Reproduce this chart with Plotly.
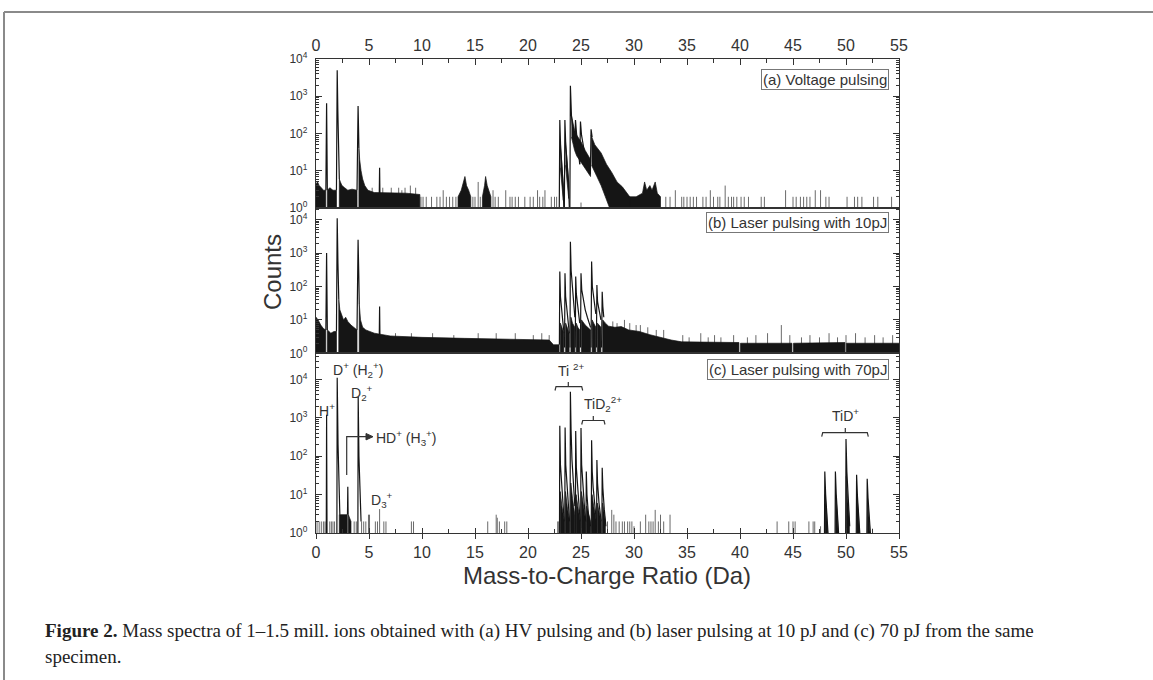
import plotly.graph_objects as go
from plotly.subplots import make_subplots

# ---------------- axis text ----------------
X_TICKS = [0, 5, 10, 15, 20, 25, 30, 35, 40, 45, 50, 55]
Y_TICK_VALS = [1, 10, 100, 1000, 10000]
Y_TICK_TEXT = ["10<sup>0</sup>", "10<sup>1</sup>", "10<sup>2</sup>", "10<sup>3</sup>", "10<sup>4</sup>"]
Y_LOG_TOP = [4.0, 4.35, 4.68]
PANEL_LABELS = ["(a) Voltage pulsing", "(b) Laser pulsing with 10pJ", "(c) Laser pulsing with 70pJ"]

# ---------------- (a) voltage pulsing ----------------
# sharp peaks: polylines (m/z, counts)
a_peaks = [
    [(0.93, 3), (1.0, 650), (1.07, 3)],
    [(1.93, 3), (2.0, 5000), (2.06, 400), (2.13, 40), (2.2, 6)],
    [(3.87, 3), (3.97, 550), (4.05, 40)],
    [(5.97, 2.5), (6.0, 12), (6.03, 2.5)],
    [(22.95, 1), (23.0, 230), (23.08, 40), (23.2, 12), (23.32, 4), (23.38, 1)],
    [(23.43, 1), (23.48, 230), (23.56, 50), (23.7, 15), (23.82, 5), (23.9, 1)],
    [(23.95, 1), (24.0, 1900), (24.1, 300), (24.25, 120), (24.42, 45)],
    [(24.42, 45), (24.48, 230), (24.58, 100), (24.75, 40), (24.88, 15)],
    [(24.88, 15), (24.95, 210), (25.05, 90), (25.3, 35), (25.6, 15), (25.88, 8)],
    [(25.88, 8), (25.95, 130), (26.05, 80)],
]
# dense noise regions: upper outline (baseline below)
a_bands = [
    [(0, 4.5), (0.15, 5), (0.3, 4), (0.5, 3.5), (0.7, 3), (0.92, 3)],
    [(1.08, 3), (1.3, 3.5), (1.6, 3), (1.93, 3)],
    [(2.2, 6), (2.3, 5), (2.45, 4), (2.7, 3.5), (3.0, 3), (3.4, 3.2), (3.87, 3)],
    [(4.05, 40), (4.12, 20), (4.25, 10), (4.4, 6), (4.6, 4), (4.9, 3), (5.5, 2.6), (7, 2.5), (8.5, 2.5), (9.8, 2.3)],
    [(13.4, 2), (13.7, 3), (13.9, 5), (14.05, 7), (14.2, 4), (14.4, 3), (14.6, 2)],
    [(15.7, 2), (15.9, 4), (16.0, 7), (16.15, 4), (16.3, 3), (16.5, 2)],
    [(29.5, 2), (30.2, 2), (30.8, 2.5), (31.0, 5), (31.2, 3), (31.5, 4), (31.7, 3), (32.0, 5), (32.2, 2.5), (32.5, 2)],
]
# noise bands floating above the baseline: (upper outline, lower outline)
a_floating = [
    ([(23.05, 60), (23.2, 15), (23.33, 4)], [(23.33, 1.6), (23.2, 4), (23.05, 12)]),
    ([(23.54, 60), (23.7, 16), (23.84, 5)], [(23.84, 1.8), (23.7, 5), (23.54, 14)]),
    ([(24.1, 300), (24.4, 120), (24.6, 90), (25.0, 60), (25.4, 35), (25.9, 20)],
     [(25.9, 7), (25.4, 11), (25.0, 17), (24.6, 25), (24.4, 35), (24.1, 80)]),
    ([(25.95, 90), (26.3, 50), (26.9, 30), (27.4, 15), (27.9, 9), (28.4, 5), (28.9, 3.7), (29.3, 2.5), (29.6, 2)],
     [(29.6, 1), (27.7, 1), (27.3, 2), (26.9, 4), (26.5, 7), (26.0, 14)]),
]
a_stick_x = [5.3, 6.3, 7.1, 7.8, 8.1, 8.4, 8.9, 9.4, 9.9, 10.1, 10.4, 10.9, 11.4, 11.7, 12.0, 12.3, 12.6,
             12.9, 13.2, 14.8, 15.0, 15.3, 15.5, 16.7, 16.9, 17.2, 17.9, 18.3, 18.5, 18.8, 19.1, 19.7, 20.2,
             20.5, 20.9, 21.1, 21.4, 21.6, 22.2, 22.5, 22.7, 25.0, 33.0, 33.4, 33.9, 34.5, 34.7, 35.0, 35.3,
             35.6, 35.9, 36.5, 36.8, 37.2, 37.5, 37.9, 38.1, 38.6, 38.9, 39.2, 39.4, 39.7, 40.1, 40.4, 40.8,
             42.0, 42.3, 44.3, 45.0, 45.3, 45.7, 46.0, 46.3, 46.6, 47.1, 47.6, 48.1, 48.4, 50.1, 50.8, 51.1,
             51.5, 52.6, 53.0, 54.3]
a_stick_y = [3.5, 3.5, 3.5, 3.5, 3, 3.5, 4, 3.5, 2, 2, 2, 2, 2, 2, 3, 2, 2,
             2, 2, 2, 2, 5, 2, 3, 2, 2, 3, 2, 2, 2, 2, 2, 2,
             2, 3, 2, 2, 3, 2, 2, 2, 1.4, 2, 2, 3, 2, 2, 2, 2,
             2, 2, 2, 2, 3, 2, 2, 2, 4, 2, 2, 2, 2, 2, 2, 2,
             2, 2, 3, 2, 2, 2, 2, 2, 2, 3, 3, 2, 2, 2, 2, 2,
             2, 2, 2, 2]

# ---------------- (b) laser pulsing 10 pJ ----------------
b_peaks = [
    [(0.93, 5), (1.0, 1000), (1.07, 5)],
    [(1.93, 4.5), (2.0, 11000), (2.07, 500), (2.15, 40)],
    [(3.87, 5), (3.97, 2500), (4.04, 200), (4.08, 30)],
    [(5.97, 3.5), (6.0, 25), (6.03, 3.5)],
    [(22.96, 1.8), (23.0, 280), (23.06, 50), (23.15, 20), (23.3, 8), (23.4, 4)],
    [(23.45, 1.5), (23.49, 250), (23.55, 50), (23.65, 20), (23.8, 8), (23.9, 4)],
    [(23.96, 1.5), (24.0, 2200), (24.07, 300), (24.15, 120), (24.3, 40), (24.42, 12)],
    [(24.46, 1.5), (24.5, 200), (24.56, 60), (24.7, 25), (24.88, 8)],
    [(24.95, 1.5), (25.0, 250), (25.07, 80), (25.2, 40), (25.4, 20), (25.6, 12), (25.9, 6)],
    [(25.95, 1.5), (26.0, 560), (26.07, 100), (26.2, 40), (26.4, 15)],
    [(26.45, 1.5), (26.5, 110), (26.56, 35), (26.7, 18), (26.88, 10)],
    [(26.94, 1.5), (27.0, 70), (27.06, 25), (27.15, 12)],
]
b_bands = [
    [(0, 12), (0.2, 10), (0.45, 7), (0.7, 5.5), (0.92, 5)],
    [(1.08, 5), (1.4, 4), (1.7, 4.5), (1.93, 4.5)],
    [(2.15, 40), (2.25, 20), (2.4, 14), (2.6, 10), (2.8, 12), (3.0, 9), (3.3, 7), (3.6, 6), (3.87, 5)],
    [(4.08, 30), (4.2, 10), (4.4, 6), (4.7, 5), (5.5, 4), (7, 3.3), (10, 3), (14, 2.8), (18, 2.7),
     (22, 2.5), (22.4, 1.8), (22.93, 1.8)],
    [(23.05, 8), (23.2, 6), (23.38, 4)],
    [(23.55, 8), (23.7, 6), (23.88, 4)],
    [(24.05, 12), (24.2, 8), (24.42, 6)],
    [(24.55, 8), (24.7, 6), (24.88, 5)],
    [(25.05, 10), (25.4, 7), (25.9, 5)],
    [(26.05, 10), (26.2, 8), (26.4, 6)],
    [(26.55, 8), (26.88, 6)],
    [(27.05, 10), (27.3, 8), (27.6, 6.5), (28.2, 6), (28.8, 6.3), (29.5, 5), (30.5, 4.5), (31.5, 3.6),
     (32.5, 3), (33.5, 2.5), (34.5, 2.2), (39.9, 2.1)],
    [(40.05, 2), (44.9, 2)],
    [(45.05, 2), (49.9, 2.1)],
    [(50.05, 2), (55, 2)],
]
b_stick_x = [7.5, 9.0, 11.0, 13.0, 15.3, 17.0, 18.8, 20.5, 21.3, 22.0, 28.0, 28.4, 29.1, 29.6, 30.2, 30.6,
             31.3, 32.1, 32.8, 34.6, 35.2, 36.3, 37.0, 37.6, 38.2, 39.4, 40.7, 41.5, 42.6, 43.9, 44.7, 45.8,
             46.6, 47.5, 48.4, 49.2, 50.0, 50.9, 51.8, 52.7, 53.5, 54.4]
b_stick_y = [4, 4, 4, 3.5, 4, 4, 4, 3.5, 4, 3.5, 9, 8, 10, 8, 7, 7,
             6, 5, 5, 3.5, 3, 4, 3, 3.5, 3, 3.5, 3, 3.5, 4, 7, 3.5, 3,
             3.5, 3, 4, 3, 3.5, 4, 3, 3.5, 3, 3.5]

# ---------------- (c) laser pulsing 70 pJ ----------------
c_peaks = [
    [(0.97, 1), (1.0, 1200), (1.04, 1)],
    [(1.97, 1), (2.0, 11000), (2.08, 200), (2.15, 20), (2.25, 3)],
    [(2.97, 3), (3.0, 16), (3.03, 3)],
    [(3.95, 1), (3.98, 3500), (4.05, 100), (4.15, 10), (4.25, 2)],
    [(22.97, 1), (23.0, 620), (23.06, 60), (23.15, 20), (23.3, 6), (23.42, 2)],
    [(23.47, 1), (23.5, 560), (23.56, 60), (23.65, 20), (23.8, 6), (23.92, 2)],
    [(23.97, 1), (24.0, 4800), (24.06, 500), (24.15, 80), (24.3, 20), (24.42, 5)],
    [(24.47, 1), (24.5, 450), (24.56, 50), (24.65, 18), (24.8, 6), (24.92, 2)],
    [(24.97, 1), (25.0, 540), (25.06, 60), (25.15, 20), (25.3, 6), (25.45, 2)],
    [(25.47, 1), (25.5, 40), (25.56, 10), (25.7, 3), (25.9, 1.5)],
    [(25.97, 1), (26.0, 260), (26.06, 40), (26.15, 15), (26.3, 5), (26.45, 2)],
    [(26.47, 1), (26.5, 80), (26.56, 20), (26.7, 6), (26.9, 2)],
    [(26.97, 1), (27.0, 50), (27.06, 15), (27.2, 4), (27.35, 1.5)],
    [(47.97, 1), (48.0, 40), (48.08, 10), (48.2, 3), (48.3, 1)],
    [(48.97, 1), (49.0, 40), (49.08, 10), (49.2, 3), (49.3, 1)],
    [(49.97, 1), (50.0, 280), (50.08, 40), (50.2, 8), (50.35, 1.5)],
    [(50.97, 1), (51.0, 33), (51.08, 9), (51.2, 3), (51.3, 1)],
    [(51.97, 1), (52.0, 26), (52.08, 8), (52.2, 2.5), (52.3, 1)],
]
c_bands = [
    [(2.2, 3), (2.95, 3)],
    [(3.05, 3), (3.3, 2)],
    [(23.04, 12), (23.2, 5), (23.42, 2)],
    [(23.54, 12), (23.7, 5), (23.92, 2)],
    [(24.04, 20), (24.2, 8), (24.42, 3)],
    [(24.54, 10), (24.7, 5), (24.92, 2)],
    [(25.04, 12), (25.2, 6), (25.45, 2)],
    [(25.54, 5), (25.9, 2)],
    [(26.04, 10), (26.2, 5), (26.45, 2)],
    [(26.54, 6), (26.9, 2)],
    [(27.04, 6), (27.3, 2)],
    [(48.03, 10), (48.15, 4), (48.27, 1.5)],
    [(49.03, 10), (49.15, 4), (49.27, 1.5)],
    [(50.03, 30), (50.15, 8), (50.32, 2)],
    [(51.03, 9), (51.15, 4), (51.27, 1.5)],
    [(52.03, 8), (52.15, 3), (52.27, 1.5)],
]
c_stick_x = [0.1, 0.3, 0.5, 0.7, 0.85, 1.3, 1.45, 1.6, 1.75, 3.6, 3.8, 4.3, 4.5, 4.7, 4.95, 5.05, 5.6, 5.8,
             6.0, 6.4, 6.6, 9.0, 9.2, 16.2, 17.0, 17.1, 17.3, 17.8, 18.0, 22.8, 22.9, 27.5, 27.9, 28.1, 28.3,
             28.6, 28.9, 29.1, 29.4, 29.6, 29.8, 30.0, 30.6, 31.1, 31.4, 31.6, 31.8, 32.0, 32.3, 32.5, 32.8,
             33.4, 43.5, 44.6, 45.0, 45.2, 46.5, 46.9, 47.05, 47.6, 52.5]
c_stick_y = [2, 2, 2, 2, 2, 2, 2, 2, 2, 2, 2, 2, 2, 2, 3, 3, 2, 2,
             4.2, 2, 2, 2, 2, 2, 3, 2.5, 2, 2, 2, 2, 2, 2, 4, 3, 2,
             2, 2, 2, 2, 2, 2, 1.5, 2, 3, 2, 2, 2, 4, 2, 3, 2,
             3, 2, 2, 2, 2, 2, 2, 2, 1.5, 1.3]

# ---------------- geometry (pixels of the 1153x680 page) ----------------
W, H = 1153, 680
L, R, T, B = 316, 899, 59, 533
PW, PH = R - L, B - T


def pxx(px):
    return (px - L) / PW


def pxy(py):
    return (B - py) / PH


def dx(px):  # pixel -> m/z on shared scale
    return (px - L) / PW * 55


def poly_lines(polys):
    xs, ys = [], []
    for p in polys:
        xs += [q[0] for q in p] + [None]
        ys += [q[1] for q in p] + [None]
    return xs, ys


def band_polys(bands, floating=()):
    xs, ys = [], []
    for top in bands:
        pts = [(top[0][0], 1)] + list(top) + [(top[-1][0], 1)]
        xs += [q[0] for q in pts] + [None]
        ys += [q[1] for q in pts] + [None]
    for top, lo in floating:
        pts = list(top) + list(lo)
        xs += [q[0] for q in pts] + [None]
        ys += [q[1] for q in pts] + [None]
    return xs, ys


def sticks(sx, sy):
    xs, ys = [], []
    for x, y in zip(sx, sy):
        xs += [x, x, None]
        ys += [1, y, None]
    return xs, ys


fig = make_subplots(rows=3, cols=1, vertical_spacing=0)

INK = "#151515"
panels = [
    (a_peaks, a_bands, a_floating, a_stick_x, a_stick_y),
    (b_peaks, b_bands, (), b_stick_x, b_stick_y),
    (c_peaks, c_bands, (), c_stick_x, c_stick_y),
]
for i, (pk, bd, fl, sx, sy) in enumerate(panels, start=1):
    stx, sty = sticks(sx, sy)
    fig.add_trace(go.Scatter(x=stx, y=sty, mode="lines", line=dict(color="#6a6a6a", width=1),
                             hoverinfo="skip", showlegend=False), row=i, col=1)
    bx, by = band_polys(bd, fl)
    fig.add_trace(go.Scatter(x=bx, y=by, mode="lines", fill="toself", fillcolor=INK,
                             line=dict(color=INK, width=0.7), hoverinfo="skip", showlegend=False),
                  row=i, col=1)
    px_, py_ = poly_lines(pk)
    fig.add_trace(go.Scatter(x=px_, y=py_, mode="lines", line=dict(color=INK, width=1.2),
                             hoverinfo="skip", showlegend=False), row=i, col=1)

# dummy trace for the overlaid bottom axis (inner half of crossing ticks)
fig.add_trace(go.Scatter(x=[None], y=[None], xaxis="x4", yaxis="y3", showlegend=False, hoverinfo="skip"))

AX = "#333333"
FONT = "Liberation Sans, Arial, sans-serif"
domains = [(pxy(208), 1.0), (pxy(353.3), pxy(208)), (0.0, pxy(353.3))]
for i in range(1, 4):
    top = Y_LOG_TOP[i - 1]
    minors = [m * 10 ** k for k in range(0, 5) for m in range(2, 10) if m * 10 ** k < 10 ** top]
    fig.update_layout(**{
        f"yaxis{i if i > 1 else ''}": dict(
            type="log", range=[0, top], domain=list(domains[i - 1]),
            tickmode="array", tickvals=Y_TICK_VALS, ticktext=Y_TICK_TEXT,
            ticks="inside", ticklen=6, tickwidth=1, tickcolor=AX,
            minor=dict(tickmode="array", tickvals=minors, ticks="inside", ticklen=3,
                       tickcolor=AX, showgrid=False),
            showline=True, linecolor=AX, linewidth=1.3, mirror="ticks",
            showgrid=False, zeroline=False,
            tickfont=dict(family=FONT, size=12, color=AX), ticklabelstandoff=5,
        )
    })

common_x = dict(range=[0, 55], showgrid=False, zeroline=False, showline=True, linecolor=AX,
                linewidth=1.3, mirror=True, tickmode="array", tickvals=X_TICKS,
                tickfont=dict(family=FONT, size=16, color=AX))
fig.update_layout(
    xaxis=dict(common_x, side="top", ticks="inside", ticklen=6, tickcolor=AX, ticklabelstandoff=0,
               minor=dict(dtick=2.5, tick0=0, ticks="inside", ticklen=4, tickcolor=AX)),
    xaxis2=dict(common_x, showticklabels=False, ticks=""),
    xaxis3=dict(common_x, ticks="outside", ticklen=5, tickcolor=AX, ticklabelstandoff=0),
    xaxis4=dict(range=[0, 55], overlaying="x3", anchor="y3", side="bottom", showticklabels=False,
                showgrid=False, zeroline=False, showline=False, tickmode="array", tickvals=X_TICKS,
                ticks="inside", ticklen=5, tickcolor=AX,
                minor=dict(dtick=2.5, tick0=0, ticks="inside", ticklen=4, tickcolor=AX)),
)

ann = []
# panel labels in boxes
for lab, ytop in zip(PANEL_LABELS, [68.5, 212, 358.5]):
    ann.append(dict(text=lab, xref="paper", yref="paper", x=pxx(888.5), y=pxy(ytop),
                    xanchor="right", yanchor="top", showarrow=False, bgcolor="white",
                    bordercolor="#777", borderwidth=1, borderpad=1,
                    font=dict(family=FONT, size=15, color=AX)))
# peak assignments in panel (c)
lab_font = dict(family=FONT, size=14, color=AX)
for txt, xc, yc, anc in [
    ("H<sup>+</sup>", 327, 410, "center"),
    ("D<sup>+</sup> (H<sub>2</sub><sup>+</sup>)", 358, 370, "center"),
    ("D<sub>2</sub><sup>+</sup>", 362, 393, "center"),
    ("HD<sup>+</sup> (H<sub>3</sub><sup>+</sup>)", 374, 437.5, "left"),
    ("D<sub>3</sub><sup>+</sup>", 382, 500, "center"),
    ("Ti <sup>2+</sup>", 571, 370, "center"),
    ("TiD<sub>2</sub><sup>2+</sup>", 603, 404, "center"),
    ("TiD<sup>+</sup>", 845.3, 415, "center"),
]:
    ann.append(dict(text=txt, xref="x3", yref="paper", x=dx(xc), y=pxy(yc), xanchor=anc,
                    yanchor="middle", showarrow=False, font=lab_font))
# axis titles
ann.append(dict(text="Counts", xref="paper", yref="paper", x=pxx(272), y=pxy(272), textangle=-90,
                showarrow=False, xanchor="center", yanchor="middle",
                font=dict(family=FONT, size=24, color=AX)))
ann.append(dict(text="Mass-to-Charge Ratio (Da)", xref="paper", yref="paper", x=pxx(607), y=pxy(575),
                showarrow=False, xanchor="center", yanchor="middle",
                font=dict(family=FONT, size=24, color=AX)))
# caption
cap_font = dict(family="Liberation Serif, Times New Roman, serif", size=19, color="#222")
ann.append(dict(text="<b>Figure 2.</b> Mass spectra of 1–1.5 mill. ions obtained with (a) HV pulsing and (b) "
                     "laser pulsing at 10 pJ and (c) 70 pJ from the same",
                xref="paper", yref="paper", x=pxx(43), y=pxy(631), xanchor="left", yanchor="middle",
                showarrow=False, font=cap_font))
ann.append(dict(text="specimen.", xref="paper", yref="paper", x=pxx(43), y=pxy(656), xanchor="left",
                yanchor="middle", showarrow=False, font=cap_font))

shapes = []
# page frame
shapes.append(dict(type="line", xref="paper", yref="paper", x0=pxx(4), x1=pxx(1153), y0=pxy(12), y1=pxy(12),
                   line=dict(color="#8a8a8a", width=2)))
shapes.append(dict(type="line", xref="paper", yref="paper", x0=pxx(4), x1=pxx(4), y0=pxy(12), y1=pxy(680),
                   line=dict(color="#8a8a8a", width=2)))
# brackets
br = dict(color=AX, width=1.2)
for (x0, x1, xm, yb, yend, ytick) in [(555, 582.7, 568.3, 386.7, 390.5, 382),
                                      (581.7, 605, 593.3, 420.5, 424.5, 416),
                                      (821.7, 868.3, 845.3, 432.7, 436.7, 428)]:
    path = (f"M {dx(x0)},{pxy(yend)} L {dx(x0 + 1)},{pxy(yb)} L {dx(x1 - 1)},{pxy(yb)} "
            f"L {dx(x1)},{pxy(yend)} M {dx(xm)},{pxy(yb)} L {dx(xm)},{pxy(ytick)}")
    shapes.append(dict(type="path", xref="x3", yref="paper", path=path, line=br))
# HD+ arrow
shapes.append(dict(type="path", xref="x3", yref="paper",
                   path=f"M {dx(346.7)},{pxy(475)} L {dx(346.7)},{pxy(436.7)} L {dx(368)},{pxy(436.7)}",
                   line=br))
shapes.append(dict(type="path", xref="x3", yref="paper",
                   path=f"M {dx(373)},{pxy(436.7)} L {dx(366)},{pxy(433.5)} L {dx(366)},{pxy(439.9)} Z",
                   fillcolor=AX, line=dict(color=AX, width=1)))

fig.update_layout(width=W, height=H, margin=dict(l=L, r=W - R, t=T, b=H - B, pad=0),
                  paper_bgcolor="white", plot_bgcolor="white", showlegend=False,
                  annotations=ann, shapes=shapes)

fig.write_html("out.html", config={"displayModeBar": False},
               post_script="document.body.style.margin='0';document.body.style.overflow='hidden';")
